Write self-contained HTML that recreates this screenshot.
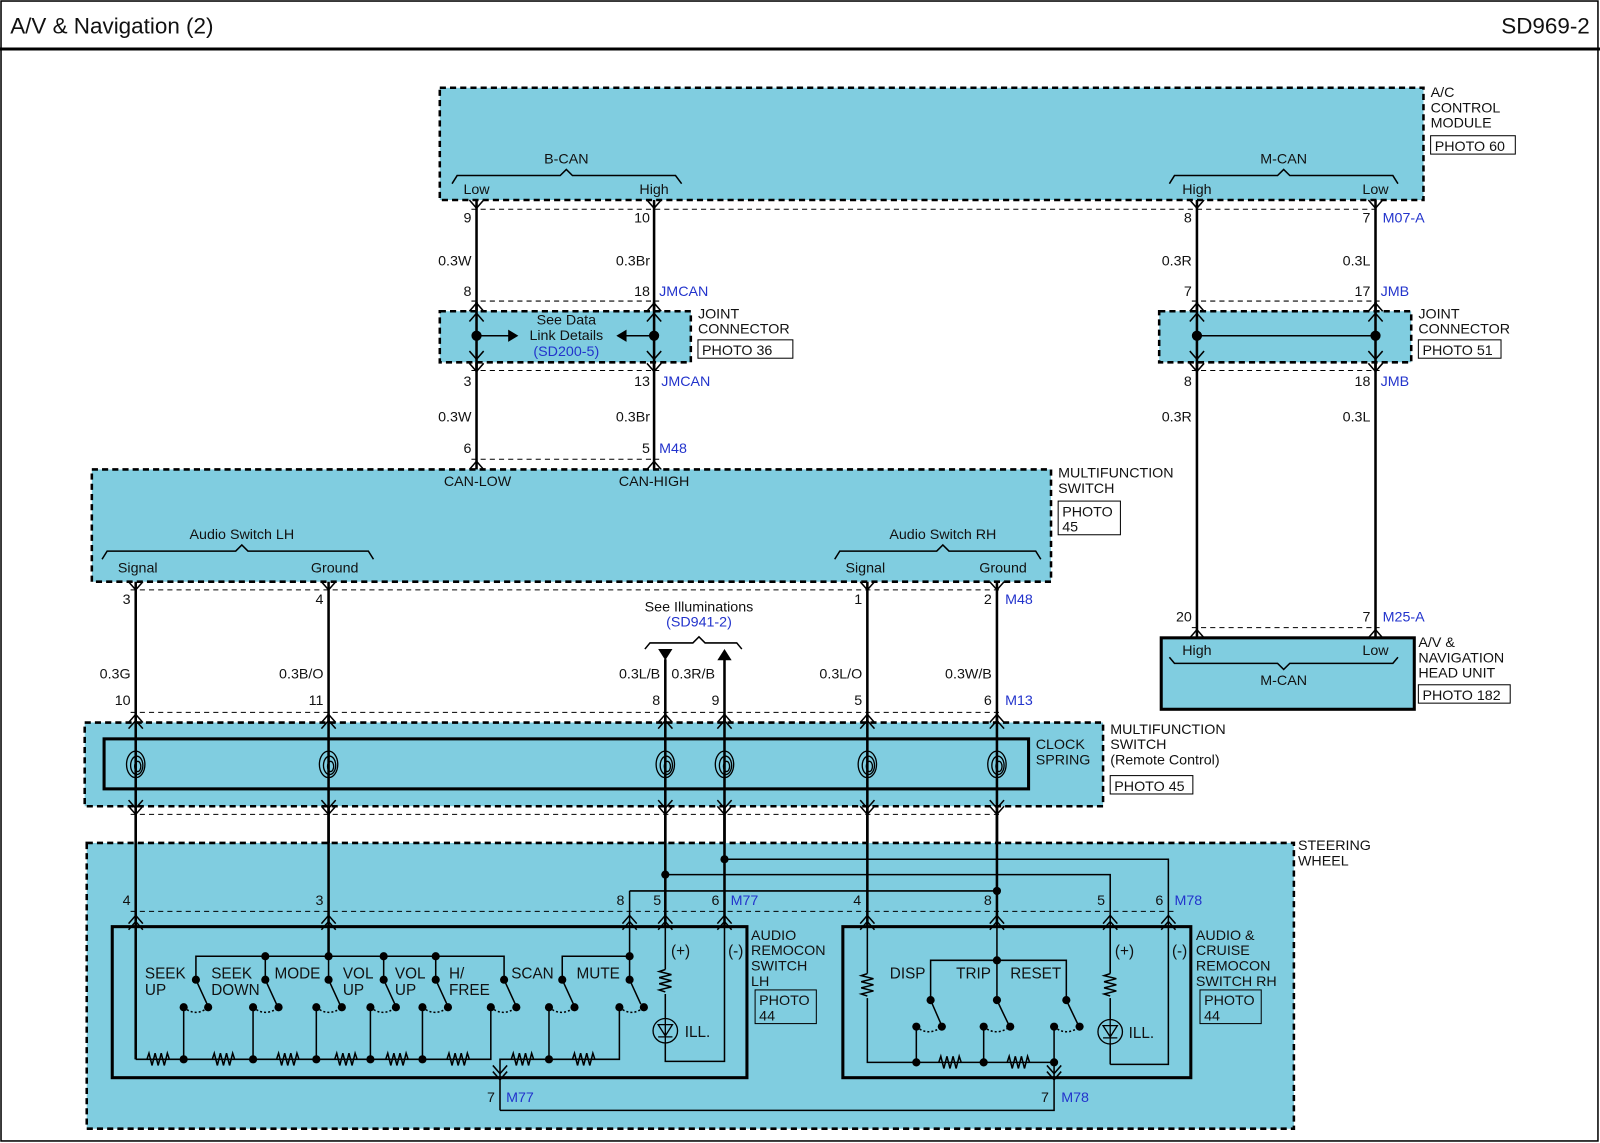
<!DOCTYPE html>
<html><head><meta charset="utf-8"><style>
html,body{margin:0;padding:0;background:#fff;}
svg{display:block;}
text{font-family:"Liberation Sans",Arial,sans-serif;font-size:14px;fill:#111;}
.b{fill:#2233cc;}
.m{text-anchor:middle;}
.e{text-anchor:end;}
.w{stroke:#000;stroke-width:2.5;fill:none;}
.t{stroke:#000;stroke-width:1.5;fill:none;}
.db{fill:#80cde0;stroke:#000;stroke-width:2.5;stroke-dasharray:6 4;}
.sb{fill:none;stroke:#000;stroke-width:3;}
.dl{stroke:#000;stroke-width:1;stroke-dasharray:5 4;fill:none;}
.pb{fill:#fff;stroke:#000;stroke-width:1;}
.pb2{fill:none;stroke:#000;stroke-width:1;}
.dot{fill:#000;}
.sw{font-size:15px;}
</style></head><body>
<svg width="1600" height="1143" viewBox="0 0 1568 1120" preserveAspectRatio="none" xmlns="http://www.w3.org/2000/svg">
<defs>
<path id="up" d="M-7,8 L0,0 L7,8" fill="none" stroke="#000" stroke-width="1.5"/>
<path id="up2" d="M-7,8 L0,0 L7,8 M-7,14 L0,6 L7,14" fill="none" stroke="#000" stroke-width="1.5"/>
<path id="dn" d="M-7,0 L0,8 L7,0" fill="none" stroke="#000" stroke-width="1.5"/>
<path id="dn2" d="M-7,-6 L0,2 L7,-6 M-7,0 L0,8 L7,0" fill="none" stroke="#000" stroke-width="1.5"/>
<path id="rh" d="M-11,0 l2,-6 l3,12 l3,-12 l3,12 l3,-12 l3,12 l3,-12 l2,6" fill="none" stroke="#000" stroke-width="1.5"/>
<path id="rv" d="M0,0 l-6,2 l12,3 l-12,3 l12,3 l-12,3 l12,3 l-12,3 l6,2" fill="none" stroke="#000" stroke-width="1.5"/>
<g id="spr" fill="none" stroke="#000" stroke-width="1.3">
<ellipse cx="0" cy="0" rx="9" ry="13"/><ellipse cx="1" cy="1" rx="6" ry="9"/><ellipse cx="2" cy="2" rx="3" ry="5"/>
</g>
</defs>
<rect x="0" y="0" width="1568" height="1120" fill="#fff"/>
<rect x="1" y="1" width="1565" height="1117" fill="none" stroke="#000" stroke-width="1.5"/>
<text x="10" y="33" style="font-size:22px">A/V &amp; Navigation (2)</text>
<text x="1558" y="33" class="e" style="font-size:22px">SD969-2</text>
<line x1="0" y1="48" x2="1568" y2="48" stroke="#000" stroke-width="3"/>

<!-- A/C module -->
<rect class="db" x="431" y="86" width="964" height="110"/>
<text x="555" y="160" class="m">B-CAN</text>
<path class="t" d="M443,180 L448,172 L549,172 L555,166 L561,172 L662,172 L668,180"/>
<text x="467" y="190" class="m">Low</text><text x="641" y="190" class="m">High</text>
<text x="1258" y="160" class="m">M-CAN</text>
<path class="t" d="M1146,180 L1151,172 L1252,172 L1258,166 L1264,172 L1365,172 L1370,180"/>
<text x="1173" y="190" class="m">High</text><text x="1348" y="190" class="m">Low</text>
<text x="1402" y="95">A/C</text><text x="1402" y="110">CONTROL</text><text x="1402" y="125">MODULE</text>
<rect class="pb" x="1402" y="133" width="83" height="18"/><text x="1406" y="148">PHOTO 60</text>

<!-- upper wires -->
<path class="w" d="M467,196 V460 M641,196 V460 M1173,196 V625 M1348,196 V625"/>
<use href="#dn" x="467" y="196"/><use href="#dn" x="641" y="196"/><use href="#dn" x="1173" y="196"/><use href="#dn" x="1348" y="196"/>
<line class="dl" x1="462" y1="205" x2="1352" y2="205"/>
<text x="462" y="218" class="e">9</text><text x="637" y="218" class="e">10</text><text x="1168" y="218" class="e">8</text><text x="1343" y="218" class="e">7</text><text x="1355" y="218" class="b">M07-A</text>
<text x="462" y="260" class="e">0.3W</text><text x="637" y="260" class="e">0.3Br</text><text x="1168" y="260" class="e">0.3R</text><text x="1343" y="260" class="e">0.3L</text>
<text x="462" y="290" class="e">8</text><text x="637" y="290" class="e">18</text><text x="646" y="290" class="b">JMCAN</text>
<text x="1168" y="290" class="e">7</text><text x="1343" y="290" class="e">17</text><text x="1353" y="290" class="b">JMB</text>
<line class="dl" x1="462" y1="295" x2="646" y2="295"/><line class="dl" x1="1168" y1="295" x2="1352" y2="295"/>

<!-- joint connectors -->
<rect class="db" x="431" y="305" width="246" height="50"/>
<rect class="db" x="1136" y="305" width="247" height="50"/>
<path class="w" d="M467,296 V364 M641,296 V364 M1173,296 V364 M1348,296 V364"/>
<use href="#up" x="467" y="297"/><use href="#up" x="641" y="297"/><use href="#up" x="1173" y="297"/><use href="#up" x="1348" y="297"/>
<use href="#up" x="467" y="307"/><use href="#up" x="641" y="307"/><use href="#up" x="1173" y="307"/><use href="#up" x="1348" y="307"/>
<use href="#dn" x="467" y="344"/><use href="#dn" x="641" y="344"/><use href="#dn" x="1173" y="344"/><use href="#dn" x="1348" y="344"/>
<use href="#dn" x="467" y="356"/><use href="#dn" x="641" y="356"/><use href="#dn" x="1173" y="356"/><use href="#dn" x="1348" y="356"/>
<circle class="dot" cx="467" cy="329" r="5"/><circle class="dot" cx="641" cy="329" r="5"/>
<path class="t" d="M467,329 H500"/><polygon points="498,323 508,329 498,335"/>
<path class="t" d="M641,329 H612"/><polygon points="614,323 604,329 614,335"/>
<text x="555" y="318" class="m">See Data</text><text x="555" y="333" class="m">Link Details</text><text x="555" y="349" class="m b">(SD200-5)</text>
<text x="684" y="312">JOINT</text><text x="684" y="327">CONNECTOR</text>
<rect class="pb" x="684" y="333" width="93" height="18"/><text x="688" y="348">PHOTO 36</text>
<line x1="1173" y1="329" x2="1348" y2="329" stroke="#000" stroke-width="1.5"/>
<circle class="dot" cx="1173" cy="329" r="5"/><circle class="dot" cx="1348" cy="329" r="5"/>
<text x="1390" y="312">JOINT</text><text x="1390" y="327">CONNECTOR</text>
<rect class="pb" x="1390" y="333" width="81" height="18"/><text x="1394" y="348">PHOTO 51</text>
<line class="dl" x1="462" y1="363" x2="646" y2="363"/><line class="dl" x1="1168" y1="363" x2="1352" y2="363"/>
<text x="462" y="378" class="e">3</text><text x="637" y="378" class="e">13</text><text x="648" y="378" class="b">JMCAN</text>
<text x="1168" y="378" class="e">8</text><text x="1343" y="378" class="e">18</text><text x="1353" y="378" class="b">JMB</text>
<text x="462" y="413" class="e">0.3W</text><text x="637" y="413" class="e">0.3Br</text><text x="1168" y="413" class="e">0.3R</text><text x="1343" y="413" class="e">0.3L</text>
<text x="462" y="444" class="e">6</text><text x="637" y="444" class="e">5</text><text x="646" y="444" class="b">M48</text>
<line class="dl" x1="462" y1="450" x2="646" y2="450"/>
<use href="#up" x="467" y="452"/><use href="#up" x="641" y="452"/>

<!-- multifunction switch -->
<rect class="db" x="90" y="460" width="940" height="110"/>
<text x="468" y="476" class="m">CAN-LOW</text><text x="641" y="476" class="m">CAN-HIGH</text>
<text x="1037" y="468">MULTIFUNCTION</text><text x="1037" y="483">SWITCH</text>
<rect class="pb" x="1037" y="491" width="61" height="33"/><text x="1041" y="506">PHOTO</text><text x="1041" y="521">45</text>
<text x="237" y="528" class="m">Audio Switch LH</text>
<path class="t" d="M100,548 L105,540 L231,540 L237,534 L243,540 L361,540 L366,548"/>
<text x="135" y="561" class="m">Signal</text><text x="328" y="561" class="m">Ground</text>
<text x="924" y="528" class="m">Audio Switch RH</text>
<path class="t" d="M818,548 L823,540 L918,540 L924,534 L930,540 L1015,540 L1020,548"/>
<text x="848" y="561" class="m">Signal</text><text x="983" y="561" class="m">Ground</text>

<!-- head unit -->
<line class="dl" x1="1168" y1="615" x2="1352" y2="615"/>
<text x="1168" y="609" class="e">20</text><text x="1343" y="609" class="e">7</text><text x="1355" y="609" class="b">M25-A</text>
<use href="#up" x="1173" y="617"/><use href="#up" x="1348" y="617"/>
<rect x="1138" y="625" width="248" height="70" fill="#80cde0" stroke="#000" stroke-width="3"/>
<text x="1173" y="642" class="m">High</text><text x="1348" y="642" class="m">Low</text>
<path class="t" d="M1146,644 L1151,650 L1252,650 L1258,656 L1264,650 L1365,650 L1370,644"/>
<text x="1258" y="671" class="m">M-CAN</text>
<text x="1390" y="634">A/V &amp;</text><text x="1390" y="649">NAVIGATION</text><text x="1390" y="664">HEAD UNIT</text>
<rect class="pb" x="1390" y="671" width="90" height="18"/><text x="1394" y="686">PHOTO 182</text>

<!-- mid wires -->
<path class="w" d="M133,570 V1038 M322,570 V937 M850,570 V908 M977,570 V980 M652,646 V908 M710,646 V908"/>
<use href="#dn" x="133" y="570"/><use href="#dn" x="322" y="570"/><use href="#dn" x="850" y="570"/><use href="#dn" x="977" y="570"/>
<line class="dl" x1="128" y1="578" x2="982" y2="578"/>
<text x="128" y="592" class="e">3</text><text x="317" y="592" class="e">4</text><text x="845" y="592" class="e">1</text><text x="972" y="592" class="e">2</text><text x="985" y="592" class="b">M48</text>
<text x="685" y="599" class="m">See Illuminations</text><text x="685" y="614" class="m b">(SD941-2)</text>
<path class="t" d="M632,636 L637,630 L679,630 L685,624 L691,630 L722,630 L727,636"/>
<polygon points="645,636 659,636 652,647"/><polygon points="703,647 717,647 710,636"/>
<text x="128" y="665" class="e">0.3G</text><text x="317" y="665" class="e">0.3B/O</text><text x="647" y="665" class="e">0.3L/B</text><text x="658" y="665">0.3R/B</text><text x="845" y="665" class="e">0.3L/O</text><text x="972" y="665" class="e">0.3W/B</text>
<text x="128" y="691" class="e">10</text><text x="317" y="691" class="e">11</text><text x="647" y="691" class="e">8</text><text x="705" y="691" class="e">9</text><text x="845" y="691" class="e">5</text><text x="972" y="691" class="e">6</text><text x="985" y="691" class="b">M13</text>
<line class="dl" x1="128" y1="698" x2="982" y2="698"/>

<!-- clock spring -->
<rect class="db" x="83" y="708" width="998" height="82"/>
<rect class="sb" x="102" y="724" width="906" height="49"/>
<path class="w" d="M133,700 V800 M322,700 V800 M652,700 V800 M710,700 V800 M850,700 V800 M977,700 V800"/>
<g>
<use href="#up2" x="133" y="700"/><use href="#up2" x="322" y="700"/><use href="#up2" x="652" y="700"/><use href="#up2" x="710" y="700"/><use href="#up2" x="850" y="700"/><use href="#up2" x="977" y="700"/>
<use href="#dn2" x="133" y="790"/><use href="#dn2" x="322" y="790"/><use href="#dn2" x="652" y="790"/><use href="#dn2" x="710" y="790"/><use href="#dn2" x="850" y="790"/><use href="#dn2" x="977" y="790"/>
<use href="#spr" x="133" y="749"/><use href="#spr" x="322" y="749"/><use href="#spr" x="652" y="749"/><use href="#spr" x="710" y="749"/><use href="#spr" x="850" y="749"/><use href="#spr" x="977" y="749"/>
</g>
<line class="dl" x1="128" y1="798" x2="982" y2="798"/>
<text x="1015" y="734">CLOCK</text><text x="1015" y="749">SPRING</text>
<text x="1088" y="719">MULTIFUNCTION</text><text x="1088" y="734">SWITCH</text><text x="1088" y="749">(Remote Control)</text>
<rect class="pb" x="1088" y="760" width="81" height="18"/><text x="1092" y="775">PHOTO 45</text>

<!-- steering wheel -->
<rect class="db" x="85" y="826" width="1183" height="280"/>
<path class="w" d="M133,800 V1038 M322,800 V937 M652,800 V908 M710,800 V908 M850,800 V908 M977,800 V908"/>
<text x="1272" y="833">STEERING</text><text x="1272" y="848">WHEEL</text>
<path class="t" d="M710,842 H1145 V1043 H1088 M652,857 H1088 V954 M617,873 H977 M617,873 V961"/>
<circle class="dot" cx="710" cy="842" r="4"/><circle class="dot" cx="652" cy="857" r="4"/><circle class="dot" cx="977" cy="873" r="4"/>
<text x="128" y="887" class="e">4</text><text x="317" y="887" class="e">3</text><text x="612" y="887" class="e">8</text><text x="648" y="887" class="e">5</text><text x="705" y="887" class="e">6</text><text x="716" y="887" class="b">M77</text>
<text x="844" y="887" class="e">4</text><text x="972" y="887" class="e">8</text><text x="1083" y="887" class="e">5</text><text x="1140" y="887" class="e">6</text><text x="1151" y="887" class="b">M78</text>
<line class="dl" x1="128" y1="893" x2="1150" y2="893"/>
<use href="#up2" x="133" y="897"/><use href="#up2" x="322" y="897"/><use href="#up2" x="617" y="897"/><use href="#up2" x="652" y="897"/><use href="#up2" x="710" y="897"/>
<use href="#up2" x="850" y="897"/><use href="#up2" x="977" y="897"/><use href="#up2" x="1088" y="897"/><use href="#up2" x="1145" y="897"/>

<rect class="sb" x="110" y="908" width="622" height="148"/>
<rect class="sb" x="826" y="908" width="341" height="148"/>
<text x="736" y="921">AUDIO</text><text x="736" y="936">REMOCON</text><text x="736" y="951">SWITCH</text><text x="736" y="966">LH</text>
<rect class="pb2" x="740" y="970" width="60" height="33"/><text x="744" y="985">PHOTO</text><text x="744" y="1000">44</text>
<text x="1172" y="921">AUDIO &amp;</text><text x="1172" y="936">CRUISE</text><text x="1172" y="951">REMOCON</text><text x="1172" y="966">SWITCH RH</text>
<rect class="pb2" x="1176" y="970" width="60" height="33"/><text x="1180" y="985">PHOTO</text><text x="1180" y="1000">44</text>

<!-- left switch internals -->
<path class="t" d="M133,1038 H481 V987 M180,1038 V987 M248,1038 V987 M310,1038 V987 M363,1038 V987 M414,1038 V987
M490,1088 V1038 H607 V987 M538,1038 V987
M192,960 V937 H494 V960 M260,937 V960 M322,937 V960 M376,937 V960 M427,937 V960 M551,960 V937 H617"/>
<g fill="#80cde0">
<use href="#rh" x="155" y="1038"/><use href="#rh" x="219" y="1038"/><use href="#rh" x="282" y="1038"/><use href="#rh" x="339" y="1038"/><use href="#rh" x="389" y="1038"/><use href="#rh" x="449" y="1038"/>
<use href="#rh" x="512" y="1038"/><use href="#rh" x="572" y="1038"/>
</g>
<g class="dot">
<circle cx="180" cy="1038" r="4"/><circle cx="248" cy="1038" r="4"/><circle cx="310" cy="1038" r="4"/><circle cx="363" cy="1038" r="4"/><circle cx="414" cy="1038" r="4"/><circle cx="538" cy="1038" r="4"/>
<circle cx="260" cy="937" r="4"/><circle cx="322" cy="937" r="4"/><circle cx="376" cy="937" r="4"/><circle cx="427" cy="937" r="4"/><circle cx="617" cy="937" r="4"/>
</g>
<!-- switches: pivot x -->
<g stroke="#000" stroke-width="1.5" fill="none">
<path d="M192,960 L203,984 M260,960 L271,984 M322,960 L333,984 M376,960 L387,984 M427,960 L438,984 M494,960 L505,984 M551,960 L562,984 M617,960 L628,984"/>
<path stroke-dasharray="2 2" d="M180,987 Q192,997 204,987 M248,987 Q260,997 273,987 M310,987 Q322,997 335,987 M363,987 Q375,997 388,987 M414,987 Q426,997 439,987 M481,987 Q493,997 506,987 M538,987 Q550,997 563,987 M607,987 Q619,997 631,987"/>
</g>
<g class="dot">
<circle cx="192" cy="960" r="4"/><circle cx="260" cy="960" r="4"/><circle cx="322" cy="960" r="4"/><circle cx="376" cy="960" r="4"/><circle cx="427" cy="960" r="4"/><circle cx="494" cy="960" r="4"/><circle cx="551" cy="960" r="4"/><circle cx="617" cy="960" r="4"/>
<circle cx="204" cy="987" r="4"/><circle cx="273" cy="987" r="4"/><circle cx="335" cy="987" r="4"/><circle cx="388" cy="987" r="4"/><circle cx="439" cy="987" r="4"/><circle cx="506" cy="987" r="4"/><circle cx="563" cy="987" r="4"/><circle cx="631" cy="987" r="4"/>
<circle cx="180" cy="987" r="4"/><circle cx="248" cy="987" r="4"/><circle cx="310" cy="987" r="4"/><circle cx="363" cy="987" r="4"/><circle cx="414" cy="987" r="4"/><circle cx="481" cy="987" r="4"/><circle cx="538" cy="987" r="4"/><circle cx="607" cy="987" r="4"/>
</g>
<text class="sw" x="142" y="959">SEEK</text><text class="sw" x="142" y="975">UP</text>
<text class="sw" x="207" y="959">SEEK</text><text class="sw" x="207" y="975">DOWN</text>
<text class="sw" x="269" y="959">MODE</text>
<text class="sw" x="336" y="959">VOL</text><text class="sw" x="336" y="975">UP</text>
<text class="sw" x="387" y="959">VOL</text><text class="sw" x="387" y="975">UP</text>
<text class="sw" x="440" y="959">H/</text><text class="sw" x="440" y="975">FREE</text>
<text class="sw" x="501" y="959">SCAN</text>
<text class="sw" x="565" y="959">MUTE</text>
<!-- left LED -->
<path class="t" d="M652,908 V1040 H710 V908"/>
<rect x="645" y="950" width="14" height="24" fill="#80cde0"/>
<use href="#rv" x="652" y="950"/>
<circle cx="652" cy="1010" r="12" fill="#80cde0" stroke="#000" stroke-width="1.3"/>
<path d="M645,1004 H659 L652,1015 Z M645,1016 H659 M652,998 V1022" fill="none" stroke="#000" stroke-width="1.3"/>
<text class="sw m" x="667" y="937">(+)</text><text class="sw m" x="721" y="937">(-)</text><text class="sw" x="671" y="1016">ILL.</text>
<use href="#dn2" x="490" y="1050"/>
<path class="t" d="M490,1088 H1033 V1041"/>
<text x="485" y="1080" class="e">7</text><text x="496" y="1080" class="b">M77</text>
<text x="1028" y="1080" class="e">7</text><text x="1040" y="1080" class="b">M78</text>

<!-- right switch internals -->
<path class="t" d="M850,908 V1041 H1033 V1006 M898,1041 V1006 M964,1041 V1006 M912,980 V941 H1045 V980 M977,908 V980"/>
<rect x="843" y="954" width="14" height="24" fill="#80cde0"/>
<use href="#rv" x="850" y="954"/>
<g fill="#80cde0"><use href="#rh" x="931" y="1041"/><use href="#rh" x="998" y="1041"/></g>
<g stroke="#000" stroke-width="1.5" fill="none">
<path d="M912,980 L922,1003 M977,980 L988,1003 M1045,980 L1056,1003"/>
<path stroke-dasharray="2 2" d="M898,1006 Q910,1016 923,1006 M964,1006 Q976,1016 990,1006 M1033,1006 Q1045,1016 1058,1006"/>
</g>
<g class="dot">
<circle cx="898" cy="1041" r="4"/><circle cx="964" cy="1041" r="4"/><circle cx="1033" cy="1041" r="4"/><circle cx="977" cy="941" r="4"/>
<circle cx="912" cy="980" r="4"/><circle cx="977" cy="980" r="4"/><circle cx="1045" cy="980" r="4"/>
<circle cx="923" cy="1006" r="4"/><circle cx="990" cy="1006" r="4"/><circle cx="1058" cy="1006" r="4"/>
<circle cx="898" cy="1006" r="4"/><circle cx="964" cy="1006" r="4"/><circle cx="1033" cy="1006" r="4"/>
</g>
<text class="sw" x="872" y="959">DISP</text><text class="sw" x="937" y="959">TRIP</text><text class="sw" x="990" y="959">RESET</text>
<path class="t" d="M1088,908 V1043"/>
<rect x="1081" y="954" width="14" height="24" fill="#80cde0"/>
<use href="#rv" x="1088" y="954"/>
<circle cx="1088" cy="1011" r="12" fill="#80cde0" stroke="#000" stroke-width="1.3"/>
<path d="M1081,1005 H1095 L1088,1016 Z M1081,1017 H1095 M1088,999 V1023" fill="none" stroke="#000" stroke-width="1.3"/>
<text class="sw m" x="1102" y="937">(+)</text><text class="sw m" x="1156" y="937">(-)</text><text class="sw" x="1106" y="1017">ILL.</text>
<use href="#dn2" x="1033" y="1050"/>
</svg>
</body></html>
